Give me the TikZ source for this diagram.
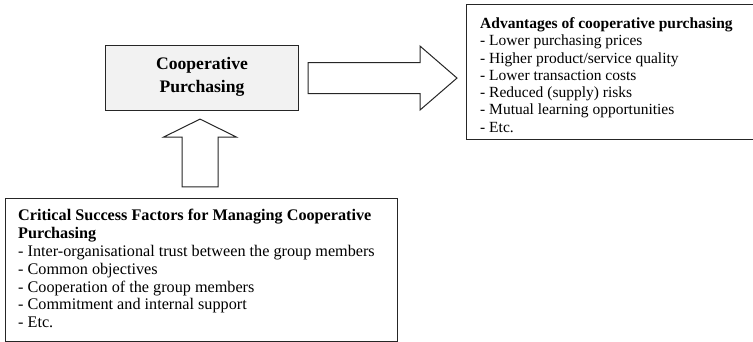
\documentclass[tikz,border=0pt]{standalone}
\usepackage{fontspec}
\setmainfont{Liberation Serif}
\usetikzlibrary{calc}
\begin{document}
\begin{tikzpicture}[x=1pt,y=-1pt,
  frame/.style={draw=black!85,line width=1.1pt,inner sep=0pt,anchor=north west},
  blockarrow/.style={draw=black!85,line width=1pt,fill=white,line join=miter},
  listtext/.style={inner sep=0pt,anchor=north west,align=left}]
\useasboundingbox (0,0) rectangle (753,342);
\clip (0,0) rectangle (753,342);

% central box
\node[frame,fill=black!5,minimum width=193pt,minimum height=65pt] (cp) at (105,45) {};
\node[font=\fontsize{17.6}{22.5}\selectfont\bfseries,align=center,inner sep=0pt]
  (cpt) at ($(cp.center)+(0,-1)$) {Cooperative\\Purchasing};

% advantages box (runs past the right edge)
\node[frame,minimum width=300pt,minimum height=135pt] (adv) at (466,4) {};
\node[listtext,font=\fontsize{15.5}{17.3}\selectfont] (advt) at ($(adv.north west)+(14,13.3)$)
  {\textbf{Advantages of cooperative purchasing}\\
   - Lower purchasing prices\\
   - Higher product/service quality\\
   - Lower transaction costs\\
   - Reduced (supply) risks\\
   - Mutual learning opportunities\\
   - Etc.};

% success factors box
\node[frame,minimum width=392pt,minimum height=143pt] (csf) at (5,198) {};
\node[listtext,font=\fontsize{16.2}{17.9}\selectfont] (csft) at ($(csf.north west)+(13,10.8)$)
  {\textbf{Critical Success Factors for Managing Cooperative}\\
   \textbf{Purchasing}\\
   - Inter-organisational trust between the group members\\
   - Common objectives\\
   - Cooperation of the group members\\
   - Commitment and internal support\\
   - Etc.};

% block arrow: central box -> advantages
\coordinate (rs) at ($(cp.east)+(9,0)$);
\coordinate (rt) at ($(adv.west |- cp.east)+(-9,0)$);
\draw[blockarrow] ($(rs)+(0,-15.5)$) -- ($(rt)+(-37,-15.5)$) -- ($(rt)+(-37,-32)$)
  -- (rt) -- ($(rt)+(-37,32)$) -- ($(rt)+(-37,15.5)$) -- ($(rs)+(0,15.5)$) -- cycle;

% block arrow: success factors -> central box
\coordinate (ut) at ($(cp.south)+(-2,8)$);
\coordinate (ub) at ($(ut |- csf.north)+(0,-11)$);
\draw[blockarrow] ($(ub)+(-18,0)$) -- ($(ut)+(-18,18)$) -- ($(ut)+(-36.5,18)$)
  -- (ut) -- ($(ut)+(36.5,18)$) -- ($(ut)+(18,18)$) -- ($(ub)+(18,0)$) -- cycle;
\end{tikzpicture}
\end{document}
